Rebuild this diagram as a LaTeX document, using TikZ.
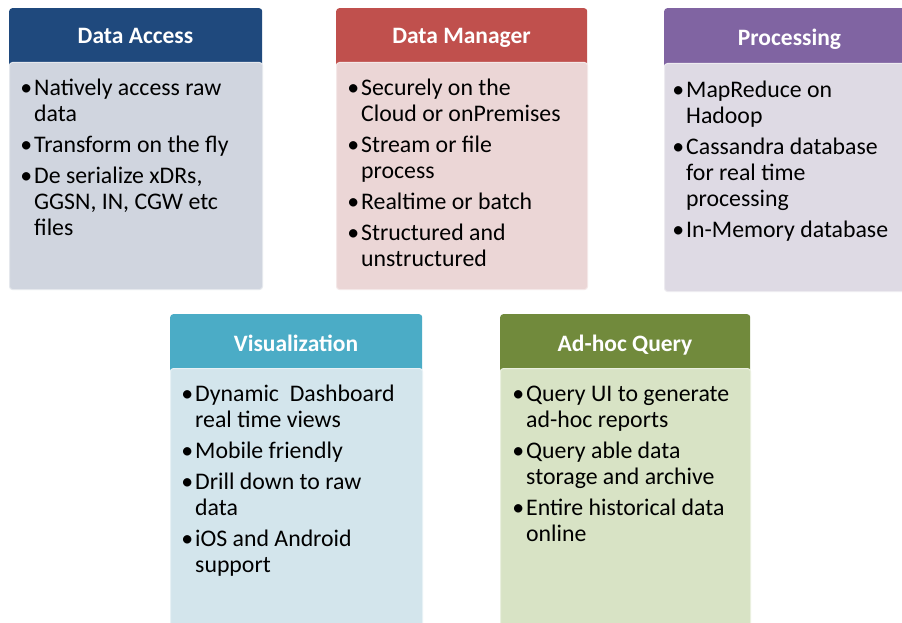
\documentclass[tikz,border=0pt]{standalone}
\usepackage{fontspec}
\setmainfont{Carlito}
\definecolor{daH}{HTML}{1F497D}\definecolor{daL}{HTML}{D0D5DF}
\definecolor{dmH}{HTML}{C0504D}\definecolor{dmL}{HTML}{EBD6D6}
\definecolor{prH}{HTML}{8064A2}\definecolor{prL}{HTML}{DEDAE4}
\definecolor{viH}{HTML}{4BACC6}\definecolor{viL}{HTML}{D3E5EC}
\definecolor{ahH}{HTML}{718A3C}\definecolor{ahL}{HTML}{D8E3C5}
\newcommand\bl{\llap{•\hspace{2pt}}}
\newcommand\myisep{\\[5pt]}
\newcommand\bodytext[1]{\parbox[t]{240pt}{\fontsize{23.8}{26}\selectfont\leavevmode #1}}
\tikzset{
  hbox/.style={rounded corners=3pt, anchor=north west, inner sep=0pt, draw=none},
  cbox/.style={rounded corners=3pt, anchor=north west, inner sep=0pt, line width=1pt},
  htext/.style={anchor=base, inner sep=0pt, text=white, font=\fontsize{23.5}{26}\selectfont\bfseries},
  btext/.style={anchor=base west, inner sep=0pt, text=black}
}
\begin{document}
\begin{tikzpicture}[x=1pt,y=-1pt]
\useasboundingbox[fill=white] (0,0) rectangle (902,623);
% Data Access
\node[hbox, fill=daH, minimum width=253pt, minimum height=58pt] (dah) at (9,8) {};
\node[cbox, fill=daL, draw=daL!55!white, minimum width=253pt, minimum height=227pt] (dac) at (9,62) {};
\node[htext] (daht) at (135.5,44) {Data Access};
\node[btext] (dact) at (34,95.5) {\bodytext{\bl Natively access raw\\data\myisep
\bl Transform on the fly\myisep
\bl De serialize xDRs,\\GGSN, IN, CGW etc\\files}};
% Data Manager
\node[hbox, fill=dmH, minimum width=251pt, minimum height=58pt] (dmh) at (336,8) {};
\node[cbox, fill=dmL, draw=dmL!55!white, minimum width=251pt, minimum height=227pt] (dmc) at (336,62) {};
\node[htext] (dmht) at (461.5,44) {Data Manager};
\node[btext] (dmct) at (361,95.5) {\bodytext{\bl Securely on the\\Cloud or onPremises\myisep
\bl Stream or file\\process\myisep
\bl Realtime or batch\myisep
\bl Structured and\\unstructured}};
% Processing
\node[hbox, fill=prH, minimum width=250pt, minimum height=59pt] (prh) at (664,8) {};
\node[cbox, fill=prL, draw=prL!55!white, minimum width=250pt, minimum height=228pt] (prc) at (664,63) {};
\node[htext] (prht) at (789.5,46) {Processing};
\node[btext] (prct) at (686,98) {\bodytext{\bl MapReduce on\\Hadoop\myisep
\bl Cassandra database\\for real time\\processing\myisep
\bl In-Memory database}};
% Visualization
\node[hbox, fill=viH, minimum width=252pt, minimum height=58pt] (vih) at (170,314) {};
\node[cbox, fill=viL, draw=viL!55!white, minimum width=252pt, minimum height=270pt] (vic) at (170,368) {};
\node[htext] (viht) at (296,351) {Visualization};
\node[btext] (vict) at (195,401.5) {\bodytext{\bl Dynamic\ \ Dashboard\\real time views\myisep
\bl Mobile friendly\myisep
\bl Drill down to raw\\data\myisep
\bl iOS and Android\\support}};
% Ad-hoc Query
\node[hbox, fill=ahH, minimum width=250pt, minimum height=58pt] (ahh) at (500,314) {};
\node[cbox, fill=ahL, draw=ahL!55!white, minimum width=250pt, minimum height=270pt] (ahc) at (500,368) {};
\node[htext] (ahht) at (625,351) {Ad-hoc Query};
\node[btext] (ahct) at (526,401.5) {\bodytext{\bl Query UI to generate\\ad-hoc reports\myisep
\bl Query able data\\storage and archive\myisep
\bl Entire historical data\\online}};
\end{tikzpicture}
\end{document}
